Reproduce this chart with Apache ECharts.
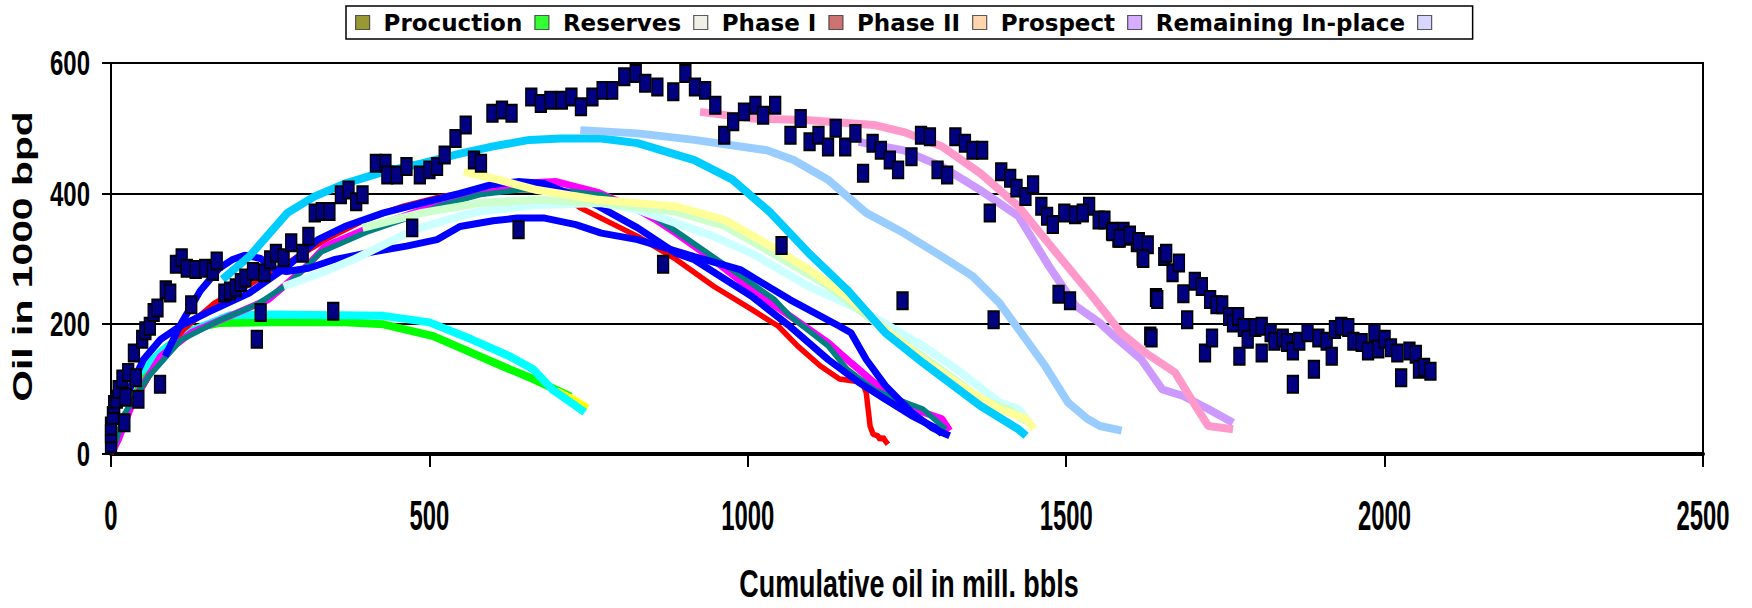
<!DOCTYPE html>
<html><head><meta charset="utf-8">
<script src="https://cdn.jsdelivr.net/npm/echarts@6/dist/echarts.min.js"></script>
<style>html,body{margin:0;padding:0;background:#fff}#c{width:1752px;height:608px}</style>
</head><body><div id="c"></div>
<script>
// ---------- DATA ----------
const xTicks = [0, 500, 1000, 1500, 2000, 2500];
const yTicks = [0, 200, 400, 600];
const xTitle = 'Cumulative oil in mill. bbls';
const yTitle = 'Oil in 1000 bpd';
const legendNames = ['Procuction', 'Reserves', 'Phase I', 'Phase II', 'Prospect', 'Remaining In-place', ' '];

const production = [
[0,15],[0,31],[0,43],[3,59],[5,76],[9,84],[12,99],[18,115],[21,48],[23,87],[27,125],[39,117],[36,155],[43,84],
[49,176],[54,189],[61,196],[67,217],[73,224],[77,107],[86,252],[93,247],[102,291],[111,301],[119,285],[133,283],
[148,285],[160,280],[166,296],[126,229],[178,247],[187,250],[196,255],[204,263],[211,270],[223,280],[241,278],
[235,217],[229,176],[250,298],[259,308],[271,301],[283,324],[301,308],[310,334],[320,370],[331,372],[343,372],
[349,219],[361,398],[373,405],[385,387],[395,398],[416,446],[431,446],[434,428],[449,428],[464,441],[473,347],
[485,428],[500,436],[512,441],[524,459],[541,484],[557,505],[570,451],[581,446],[599,523],[614,528],[629,523],
[640,344],[660,548],[675,538],[690,543],[708,543],[723,548],[738,533],[756,548],[772,558],[787,558],[806,579],
[824,584],[839,569],[858,563],[883,556],[902,584],[917,563],[933,558],[949,535],[963,489],[977,510],[994,525],
[1012,535],[1024,520],[1043,535],[1067,489],[1083,515],[1097,479],[1111,489],[1126,471],[1138,500],[1153,471],
[1169,492],[1181,431],[1196,477],[1209,466],[1223,451],[1236,436],[1257,456],[1272,489],[1286,487],[1298,436],
[1313,428],[1326,487],[1341,477],[1353,466],[1368,466],[1243,235],[1053,320],[867,291],[1380,370],[1386,206],
[1398,433],[1412,423],[1422,408],[1436,395],[1448,413],[1461,380],[1470,365],[1479,352],[1488,245],[1506,235],
[1497,370],[1514,367],[1536,380],[1526,370],[1551,359],[1560,359],[1572,342],[1582,331],[1590,342],[1599,334],
[1611,324],[1620,303],[1632,181],[1641,240],[1573,341],[1584,331],[1600,336],[1614,326],[1628,321],[1621,300],
[1654,303],[1657,308],[1667,278],[1677,293],[1643,237],[1634,178],[1684,246],[1690,206],[1702,265],[1713,257],
[1726,237],[1736,229],[1745,229],[1718,155],[1729,178],[1756,211],[1762,201],[1770,211],[1779,194],[1785,176],
[1772,150],[1797,194],[1807,196],[1807,155],[1821,186],[1827,173],[1840,178],[1847,171],[1856,158],[1856,107],
[1866,173],[1879,186],[1889,130],[1896,178],[1909,173],[1917,150],[1922,191],[1932,196],[1943,194],[1951,173],
[1964,171],[1974,158],[1984,186],[1990,161],[2000,176],[2010,163],[2020,155],[2026,117],[2039,158],[2049,153],
[2054,130],[2062,133],[2072,127]
];

const greenLine = [[8,20],[30,74],[54,120],[84,161],[114,184],[145,196],[169,201],[247,202],[367,202],[428,199],[506,181],[572,153],[614,135],[663,115],[722,88]];
const yellowTip = [[700,96],[725,84],[748,70]];
const cyanLine = [[45,125],[80,158],[130,190],[187,213],[247,214],[428,212],[500,202],[566,176],[626,150],[663,130],[693,99],[744,64]];
const redLine = [[0,0],[15,40],[30,69],[66,130],[114,191],[163,232],[217,260],[277,293],[337,329],[398,359],[458,380],[518,395],[578,405],[640,412],[690,410],[737,378],[790,352],[827,334],[887,299],[947,257],[1006,222],[1048,196],[1078,166],[1114,135],[1144,115],[1180,110],[1186,94],[1190,60],[1192,43],[1197,30],[1204,28],[1208,22],[1212,26],[1216,20],[1220,15]];
const magentaLine = [[3,5],[12,23],[36,84],[78,150],[126,186],[187,212],[247,237],[271,257],[307,288],[337,319],[398,344],[458,364],[518,385],[578,405],[639,415],[699,418],[766,401],[827,375],[856,359],[887,339],[946,298],[1006,252],[1066,212],[1126,171],[1162,140],[1198,110],[1234,84],[1275,64],[1305,54],[1317,36]];
const tealLine = [[5,10],[20,60],[60,120],[110,175],[170,205],[230,230],[280,262],[330,310],[400,340],[460,360],[520,382],[580,398],[640,405],[700,405],[770,398],[844,370],[887,342],[982,278],[1042,237],[1066,212],[1126,166],[1156,130],[1198,99],[1234,84],[1275,69],[1311,38]];
const blueLineA = [[20,80],[51,145],[78,176],[108,196],[151,217],[217,247],[277,288],[325,329],[367,349],[428,370],[488,385],[548,400],[596,413],[639,418],[680,415],[730,395],[766,380],[827,347],[887,308],[916,298],[1006,242],[1066,196],[1126,145],[1174,110],[1216,84],[1257,59],[1293,41],[1305,31]];
const blueLineB = [[85,150],[110,200],[140,250],[170,285],[190,298],[210,305],[235,300],[255,285],[275,280],[310,285],[350,298],[410,310],[464,319],[512,329],[548,349],[600,358],[639,362],[681,362],[730,352],[770,339],[827,329],[916,303],[988,283],[1066,237],[1144,196],[1162,186],[1186,145],[1216,105],[1257,64],[1290,40],[1305,33],[1317,28]];
const lightCyanLine = [[271,257],[330,278],[380,298],[430,322],[476,344],[530,360],[578,372],[669,382],[770,385],[827,375],[946,334],[1006,308],[1096,257],[1186,217],[1275,166],[1335,125],[1395,79],[1425,69],[1443,48]];
const lightGreenLine = [[395,347],[440,358],[488,370],[578,385],[669,390],[770,385],[887,372],[964,350],[1036,310],[1126,258],[1216,190],[1305,128],[1365,85],[1410,68],[1437,50]];
const lightYellowLine = [[554,433],[608,421],[669,405],[766,390],[887,380],[964,359],[1036,319],[1096,283],[1156,242],[1216,191],[1275,145],[1335,104],[1395,69],[1437,54],[1449,38]];
const skyBlueLine = [[175,268],[217,303],[277,370],[319,395],[367,415],[428,433],[488,446],[548,461],[600,472],[657,482],[707,484],[770,484],[827,477],[916,451],[976,421],[1036,370],[1096,308],[1156,252],[1216,186],[1275,140],[1365,74],[1425,38],[1437,28]];
const lightBlueLine = [[737,497],[827,492],[916,482],[1030,466],[1072,451],[1126,421],[1186,370],[1245,339],[1305,303],[1353,273],[1395,232],[1467,135],[1503,79],[1533,54],[1553,43],[1587,36]];
const lavenderLine = [[1174,479],[1245,466],[1305,441],[1365,405],[1425,365],[1473,288],[1515,227],[1553,201],[1575,181],[1618,145],[1651,99],[1684,89],[1723,69],[1762,48]];
const pinkLine = [[925,525],[1006,515],[1096,512],[1198,505],[1245,494],[1305,472],[1365,431],[1425,380],[1485,308],[1545,237],[1553,227],[1586,186],[1625,155],[1671,125],[1703,74],[1723,43],[1762,38]];

// ---------- STYLES ----------
const legendColors = ['#808000', '#00FF00', '#EEECE1', '#C0504D', '#FFCC99', '#CC99FF', '#CCCCFF'];
const lineDefs = [
  {d: greenLine, c: '#00FF00', w: 8},
  {d: yellowTip, c: '#FFFF00', w: 8},
  {d: cyanLine, c: '#00FFFF', w: 8},
  {d: redLine, c: '#FF0000', w: 5.5},
  {d: magentaLine, c: '#FF00FF', w: 7},
  {d: tealLine, c: '#008080', w: 5.5},
  {d: blueLineA, c: '#0000FF', w: 7},
  {d: blueLineB, c: '#0000FF', w: 7},
  {d: lightCyanLine, c: '#CCFFFF', w: 8},
  {d: lightGreenLine, c: '#CCFFCC', w: 8},
  {d: lightYellowLine, c: '#FFFF99', w: 8},
  {d: skyBlueLine, c: '#00CCFF', w: 8},
  {d: lightBlueLine, c: '#99CCFF', w: 8},
  {d: lavenderLine, c: '#CC99FF', w: 8},
  {d: pinkLine, c: '#FF99CC', w: 8}
];

const chart = echarts.init(document.getElementById('c'), null, {renderer: 'svg'});
const series = [];
lineDefs.forEach((s, i) => series.push({
  name: 'line' + i, type: 'line', data: s.d, showSymbol: false, symbol: 'none',
  lineStyle: {color: s.c, width: s.w}, itemStyle: {color: s.c}, z: 2, silent: true
}));
series.push({
  name: 'production', type: 'scatter', data: production, symbol: 'rect', symbolSize: [11, 17],
  itemStyle: {color: '#000080', borderColor: '#000', borderWidth: 1.6, opacity: 1}, z: 10, silent: true
});
legendNames.forEach((n, i) => series.push({
  name: n, type: 'scatter', data: [], itemStyle: {color: legendColors[i]}
}));

chart.setOption({
  animation: false,
  backgroundColor: '#fff',
  grid: {left: 111, top: 63, width: 1592, height: 391, show: true, borderColor: '#000', borderWidth: 2, backgroundColor: 'transparent', outerBoundsMode: 'none'},
  legend: {
    data: legendNames, left: 346, top: 6, padding: [5, 19, 5, 9], itemGap: 12,
    itemWidth: 14, itemHeight: 14, icon: 'rect', borderColor: '#000', borderWidth: 1.5,
    itemStyle: {borderColor: '#333', borderWidth: 1.2}, selectedMode: false,
    textStyle: {fontFamily: 'DejaVu Sans', fontWeight: 'bold', fontSize: 23, color: '#000', padding: [0, 0, 0, 9]}
  },
  xAxis: {
    type: 'value', min: 0, max: 2500, interval: 500,
    axisLine: {show: true, onZero: false, lineStyle: {color: '#000', width: 4}},
    axisTick: {show: true, length: 13, lineStyle: {color: '#000', width: 2}},
    axisLabel: {show: false}, splitLine: {show: false}
  },
  yAxis: {
    type: 'value', min: 0, max: 600, interval: 200,
    axisLine: {show: true, lineStyle: {color: '#000', width: 2}},
    axisTick: {show: true, length: 9, lineStyle: {color: '#000', width: 2}},
    axisLabel: {show: false},
    splitLine: {show: true, lineStyle: {color: '#000', width: 2}}
  },
  series: series
});

// Tick labels & axis titles (condensed text positioned through the axis scales)
const g = [];
const font = 'Liberation Sans, Arial, sans-serif';
xTicks.forEach(v => {
  const p = chart.convertToPixel({gridIndex: 0}, [v, 0]);
  g.push({type: 'text', x: p[0], y: p[1] + 61, scaleX: 0.555, silent: true,
    style: {text: String(v), fontFamily: font, fontWeight: 'bold', fontSize: 43, fill: '#000',
      align: 'center', textAlign: 'center', verticalAlign: 'middle', textVerticalAlign: 'middle'}});
});
yTicks.forEach(v => {
  const p = chart.convertToPixel({gridIndex: 0}, [0, v]);
  g.push({type: 'text', x: p[0] - 21, y: p[1], scaleX: 0.685, silent: true,
    style: {text: String(v), fontFamily: font, fontWeight: 'bold', fontSize: 35, fill: '#000',
      align: 'right', textAlign: 'right', verticalAlign: 'middle', textVerticalAlign: 'middle'}});
});
const c0 = chart.convertToPixel({gridIndex: 0}, [1250, 300]);
g.push({type: 'text', x: c0[0] + 2, y: 584, scaleX: 0.69, silent: true,
  style: {text: xTitle, fontFamily: font, fontWeight: 'bold', fontSize: 39, fill: '#000',
    align: 'center', textAlign: 'center', verticalAlign: 'middle', textVerticalAlign: 'middle'}});
g.push({type: 'text', x: 22, y: c0[1] - 2, rotation: Math.PI / 2, scaleX: 1.46, silent: true,
  style: {text: yTitle, fontFamily: font, fontWeight: 'bold', fontSize: 28, fill: '#000',
    align: 'center', textAlign: 'center', verticalAlign: 'middle', textVerticalAlign: 'middle'}});
chart.setOption({graphic: g});
</script>
</body></html>
